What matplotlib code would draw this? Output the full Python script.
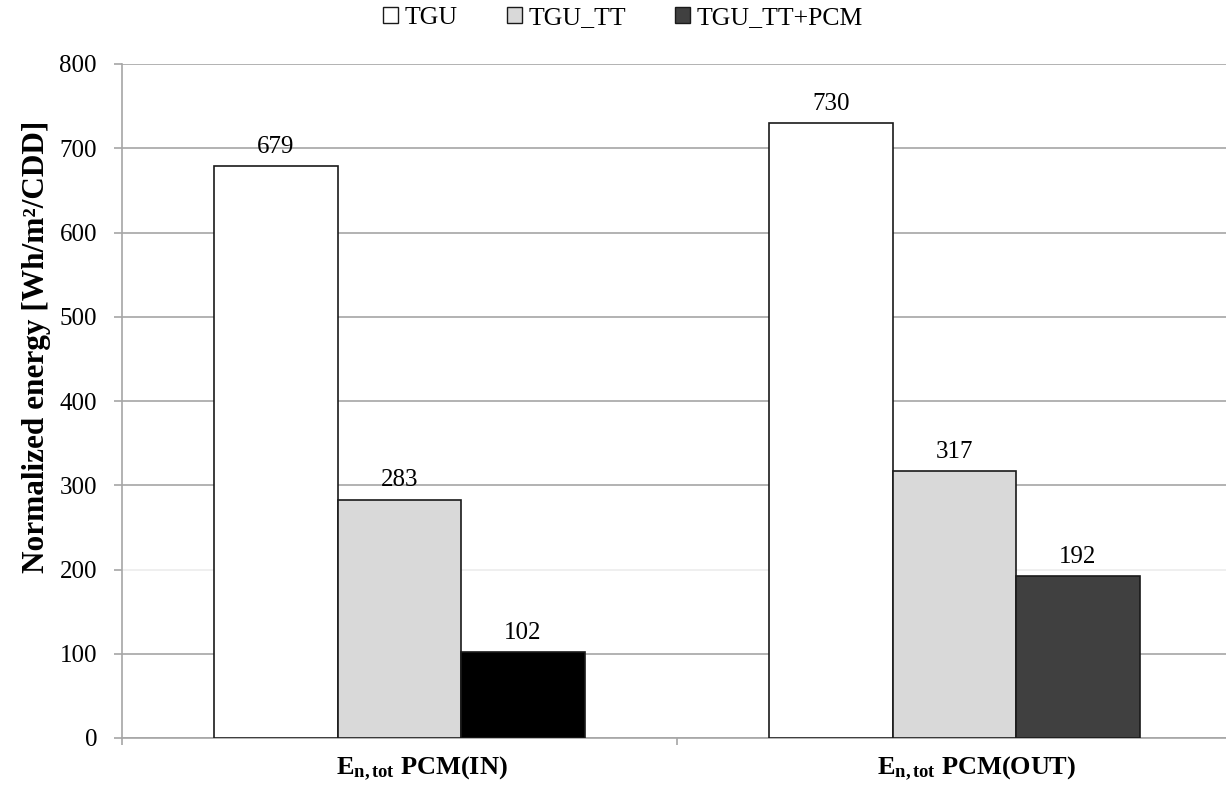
import matplotlib.pyplot as plt
import matplotlib.transforms as mtransforms
import numpy as np

# Data
categories = [r'$\mathbf{E_{n,tot}}$ PCM(IN)', r'$\mathbf{E_{n,tot}}$ PCM(OUT)']
series_names = ['TGU', 'TGU_TT', 'TGU_TT+PCM']
tgu = [679, 730]
tgu_tt = [283, 317]
tgu_tt_pcm = [102, 192]

plt.rcParams['font.family'] = ['Liberation Serif', 'DejaVu Serif']
plt.rcParams['mathtext.fontset'] = 'custom'
plt.rcParams['mathtext.rm'] = 'Liberation Serif'
plt.rcParams['mathtext.bf'] = 'Liberation Serif:bold'
plt.rcParams['mathtext.it'] = 'Liberation Serif:italic'

fig = plt.figure(figsize=(12.26, 7.91), dpi=100)
ax = fig.add_axes([122 / 1226, 53 / 791, 1104 / 1226, 674 / 791])

x = np.arange(len(categories))
w = 0.2225
grid_col = '#a6a6a6'

series = [tgu, tgu_tt, tgu_tt_pcm]
face_cols = [['white', 'white'], ['#d9d9d9', '#d9d9d9'], ['#000000', '#404040']]
legend_cols = ['white', '#d9d9d9', '#404040']

for i, (vals, cols) in enumerate(zip(series, face_cols)):
    bars = ax.bar(x + (i - 1) * w, vals, w, color=cols, edgecolor='#1a1a1a',
                  linewidth=1.2, zorder=3)
    for b, v in zip(bars, vals):
        ax.annotate(f'{v}', (b.get_x() + b.get_width() / 2, v),
                    xytext=(0, 6), textcoords='offset points',
                    ha='center', va='bottom', fontsize=18)

ax.set_ylim(0, 800)
ax.set_xlim(-0.5, 1.5 - 6 / 555)
ax.set_yticks(range(0, 801, 100))
ax.tick_params(axis='y', labelsize=18, length=6, color=grid_col, width=1.2, pad=12)
ax.grid(axis='y', color=grid_col, linewidth=1.2, zorder=0)
for gl, t in zip(ax.get_ygridlines(), range(0, 801, 100)):
    if t == 200:
        gl.set_color('#ececec')

ax.set_xticks(x)
ax.set_xticklabels(categories, fontsize=19, fontweight='bold')
ax.tick_params(axis='x', length=0, pad=12)
shift = mtransforms.ScaledTranslation(22 / 100, 0, fig.dpi_scale_trans)
for lab in ax.get_xticklabels():
    lab.set_transform(lab.get_transform() + shift)
ax.set_xticks([-0.5, 0.5], minor=True)
ax.tick_params(axis='x', which='minor', length=5, color=grid_col, width=1.2)

for s in ['top', 'right']:
    ax.spines[s].set_visible(False)
for s in ['left', 'bottom']:
    ax.spines[s].set_color(grid_col)
    ax.spines[s].set_linewidth(1.2)

ax.set_ylabel('Normalized energy [Wh/m²/CDD]', fontsize=22.5, fontweight='bold',
              labelpad=6, y=0.58)

handles = [plt.Rectangle((0, 0), 1, 1, facecolor=c, edgecolor='#1a1a1a', linewidth=1)
           for c in legend_cols]
fig.legend(handles, series_names, loc='center', bbox_to_anchor=(0.508, 0.977), ncol=3,
           frameon=False, fontsize=18.5, handlelength=0.6, handleheight=0.6,
           handletextpad=0.25, columnspacing=1.9)

fig.savefig('out.png', dpi=100)
